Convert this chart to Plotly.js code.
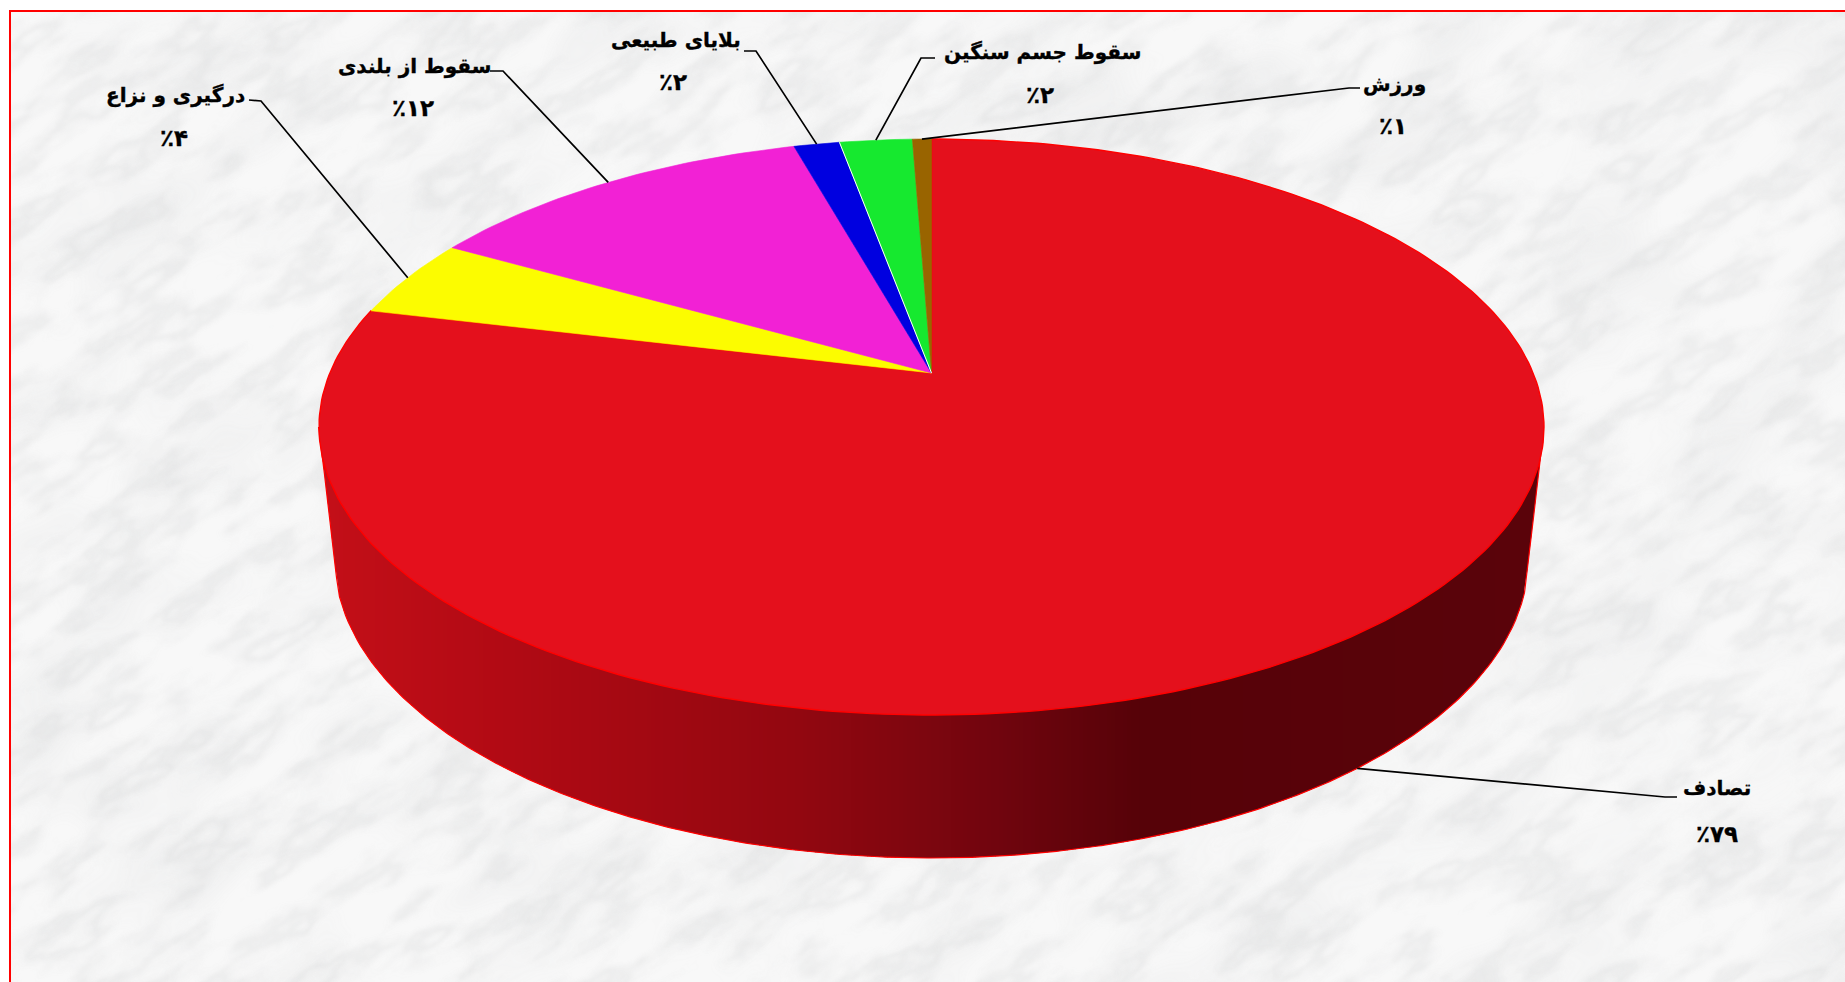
<!DOCTYPE html>
<html>
<head>
<meta charset="utf-8">
<script src="https://cdn.plot.ly/plotly-3.0.1.min.js"></script>
<style>
html,body{margin:0;padding:0;background:#fff;width:1845px;height:982px;overflow:hidden}
#marble{position:absolute;left:9px;top:10px;width:1836px;height:972px;box-sizing:border-box;border-left:2px solid #ff0000;border-top:2px solid #ff0000;background:#f8f8f8;overflow:hidden}
#marble svg{position:absolute;left:0;top:0;opacity:0.62}
#chart{position:absolute;left:0;top:0;width:1845px;height:982px}
.annotation-text{stroke:#000;stroke-width:0.35px}
</style>
</head>
<body>
<div id="marble">
<svg width="1834" height="970" xmlns="http://www.w3.org/2000/svg">
<defs>
<filter id="veins" x="0" y="0" width="100%" height="100%" color-interpolation-filters="sRGB">
<feTurbulence type="fractalNoise" baseFrequency="0.012 0.034" numOctaves="6" seed="23"/>
<feColorMatrix type="matrix" values="0 0 0 0 0.62  0 0 0 0 0.63  0 0 0 0 0.64  1 0 0 0 0"/>
<feComponentTransfer><feFuncA type="table" tableValues="0 0 0 0 0 0 0 0 0 0 0.01 0.025 0.05 0.08 0.12 0.17 0.2 0.16 0.11 0.07 0.04 0.02 0 0 0"/></feComponentTransfer>
<feGaussianBlur stdDeviation="1.8"/>
</filter>
<filter id="cloud" x="0" y="0" width="100%" height="100%" color-interpolation-filters="sRGB">
<feTurbulence type="fractalNoise" baseFrequency="0.006 0.012" numOctaves="3" seed="7"/>
<feColorMatrix type="matrix" values="0 0 0 0 0.70  0 0 0 0 0.71  0 0 0 0 0.72  0.9 0 0 0 -0.38"/>
<feGaussianBlur stdDeviation="3"/>
</filter>
</defs>
<rect x="-800" y="-800" width="3600" height="3000" transform="rotate(-34 917 485)" filter="url(#cloud)" opacity="0.55"/>
<rect x="-800" y="-800" width="3600" height="3000" transform="rotate(-34 917 485)" filter="url(#veins)"/>
</svg>
</div>
<div id="chart"></div>
<script>
const categories = ['تصادف', 'درگیری و نزاع', 'سقوط از بلندی', 'بلایای طبیعی', 'سقوط جسم سنگین', 'ورزش'];
const values = [78.75, 4.45, 12.45, 1.45, 2.3, 0.6];
const percentLabels = ['٪۷۹', '٪۴', '٪۱۲', '٪۲', '٪۲', '٪۱'];
const sliceColors = ['#e4101c', '#fcfc00', '#f221d5', '#0000e0', '#16e92f', '#996400'];

// Label placement in the chart's axis units
const labelX = [1717, 175, 414, 676, 1042, 1394];
const labelY = [788, 95, 66, 40, 52, 84];
const percentX = [1717, 174, 413, 673, 1040, 1393];
const percentY = [834, 138, 108, 82, 95, 126];
const elbowX = [1665, 261, 503, 756, 921, 1349];
const elbowY = [797, 101, 71, 51, 58, 88];
const endX = [1677, 249, 490, 744, 935, 1360];
const endY = [797, 100, 71, 51, 58, 88];

// Geometry of the tilted disc
const topDisc = {cx: 931.5, cy: 427, rx: 612.5, ry: 288};
const baseDisc = {cx: 931.5, cy: 558, rx: 597, ry: 300};
const apexOffset = 0.1875;
const tangentInset = 593.5;
const wallStops = [[319, [196, 15, 24]], [500, [178, 10, 20]], [800, [146, 7, 16]], [1000, [112, 5, 14]], [1140, [86, 2, 8]], [1545, [90, 3, 10]]];

const rad = Math.PI / 180;
const shrink = Math.sqrt(1 - apexOffset * apexOffset);

function rimPoint(deg, disc) {
  const sx = Math.sin(deg * rad), sy = Math.cos(deg * rad);
  const d = 1 + apexOffset * sy;
  return [disc.cx + disc.rx * sx * shrink / d, disc.cy - disc.ry * (sy + apexOffset) / d];
}
function wallColor(x) {
  for (let i = 1; i < wallStops.length; i++) {
    if (x <= wallStops[i][0]) {
      const a = wallStops[i - 1], b = wallStops[i];
      const t = Math.max(0, (x - a[0]) / (b[0] - a[0]));
      const c = a[1].map((v, k) => Math.round(v + (b[1][k] - v) * t));
      return 'rgb(' + c.join(',') + ')';
    }
  }
  return 'rgb(90,3,10)';
}
// Lower edge of the wall at a given x: the base ellipse, joined to the top disc by straight sides
function wallBottom(x) {
  const dx = Math.abs(x - baseDisc.cx);
  const tangentY = baseDisc.cy + baseDisc.ry * Math.sqrt(1 - Math.pow(tangentInset / baseDisc.rx, 2));
  if (dx <= tangentInset) return baseDisc.cy + baseDisc.ry * Math.sqrt(1 - Math.pow(dx / baseDisc.rx, 2));
  const t = (topDisc.rx - dx) / (topDisc.rx - tangentInset);
  return topDisc.cy + (tangentY - topDisc.cy) * Math.max(0, t);
}
function polyTrace(xs, ys, fill, lineColor, lineWidth) {
  return {type: 'scatter', mode: 'lines', x: xs, y: ys, fill: 'toself', fillcolor: fill,
          line: {color: lineColor, width: lineWidth}, hoverinfo: 'skip', showlegend: false};
}
function lineTrace(xs, ys, color, width) {
  return {type: 'scatter', mode: 'lines', x: xs, y: ys, line: {color: color, width: width},
          hoverinfo: 'skip', showlegend: false};
}

const traces = [];
const wallLeft = Math.ceil(topDisc.cx - topDisc.rx), wallRight = Math.floor(topDisc.cx + topDisc.rx);

// Side wall: vertical bands shaded left to right, each overlapping the next
const bandWidth = 4;
for (let x0 = wallLeft; x0 < wallRight; x0 += bandWidth) {
  const x1 = Math.min(x0 + bandWidth + 1, wallRight);
  const col = wallColor(x0 + bandWidth / 2);
  traces.push(polyTrace([x0, x1, x1, x0], [topDisc.cy, topDisc.cy, wallBottom(x1), wallBottom(x0)], col, 'rgba(0,0,0,0)', 0));
}
// Bright outline of the wall
const edgeX = [], edgeY = [];
for (let x = wallLeft - 0.5; x <= wallRight + 0.5; x += 3) {
  edgeX.push(x); edgeY.push(wallBottom(x));
}
traces.push(lineTrace(edgeX, edgeY, '#ff0000', 1.2));

// Top slices: clockwise from twelve o'clock
const total = values.reduce((s, v) => s + v, 0);
const apex = [topDisc.cx, topDisc.cy - topDisc.ry * apexOffset];
let angle = 0;
const midAngles = [], startAngles = [];
values.forEach((v, i) => {
  const sweep = v / total * 360;
  const xs = [apex[0]], ys = [apex[1]];
  const n = Math.max(2, Math.ceil(sweep));
  for (let k = 0; k <= n; k++) {
    const p = rimPoint(angle + sweep * k / n, topDisc);
    xs.push(p[0]); ys.push(p[1]);
  }
  xs.push(apex[0]); ys.push(apex[1]);
  traces.push(polyTrace(xs, ys, sliceColors[i], i === 0 ? '#ff0000' : sliceColors[i], i === 0 ? 1.4 : 0.6));
  startAngles.push(angle);
  midAngles.push(angle + sweep / 2);
  angle += sweep;
});
// Thin white seam between the blue and green slices
const seam = rimPoint(startAngles[4], topDisc);
traces.push(lineTrace([apex[0], seam[0]], [apex[1], seam[1]], '#ffffff', 1));

// Leader lines from each slice's mid angle to its label
categories.forEach((c, i) => {
  const p = rimPoint(midAngles[i], i === 0 ? baseDisc : topDisc);
  traces.push(lineTrace([p[0], elbowX[i], endX[i]], [p[1], elbowY[i], endY[i]], '#000000', 1.7));
});

const annotations = [];
const nameFont = {family: '"DejaVu Sans", sans-serif', size: 20, color: '#000000', weight: 700};
const percentFont = {family: '"DejaVu Sans", sans-serif', size: 23, color: '#000000', weight: 700};
categories.forEach((c, i) => {
  annotations.push({x: labelX[i], y: labelY[i], xref: 'x', yref: 'y', text: '<b>' + c + '</b>', showarrow: false, font: nameFont});
  annotations.push({x: percentX[i], y: percentY[i], xref: 'x', yref: 'y', text: '<b>' + percentLabels[i] + '</b>', showarrow: false, font: percentFont});
});

const layout = {
  width: 1845, height: 982,
  margin: {l: 0, r: 0, t: 0, b: 0, pad: 0},
  paper_bgcolor: 'rgba(0,0,0,0)', plot_bgcolor: 'rgba(0,0,0,0)',
  xaxis: {range: [0, 1845], visible: false, fixedrange: true},
  yaxis: {range: [982, 0], visible: false, fixedrange: true},
  showlegend: false,
  annotations: annotations
};
Plotly.newPlot('chart', traces, layout, {displayModeBar: false, staticPlot: true});
</script>
</body>
</html>
